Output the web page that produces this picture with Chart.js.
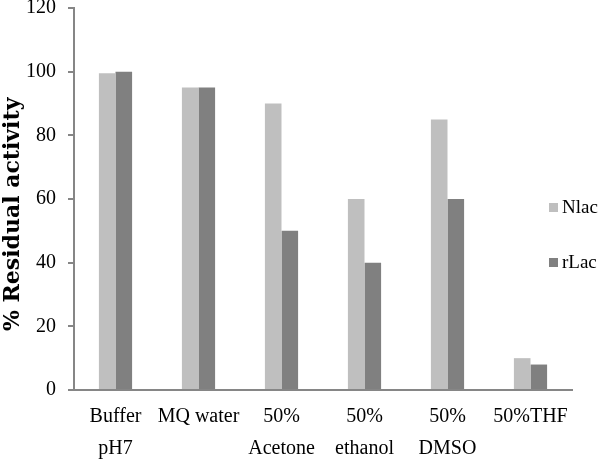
<!DOCTYPE html>
<html>
<head>
<meta charset="utf-8">
<script src="https://cdn.jsdelivr.net/npm/chart.js@4"></script>
<style>
  body { margin: 0; background: #fff; }
  #wrap { width: 600px; height: 464px; }
</style>
</head>
<body>
<div id="wrap"><canvas id="bar-activity"></canvas></div>
<script>
var categories = [['Buffer', 'pH7'], 'MQ water', ['50%', 'Acetone'], ['50%', 'ethanol'], ['50%', 'DMSO'], '50%THF'];
var nlac = [99.5, 95, 90, 60, 85, 10];
var rlac = [100, 95, 50, 40, 60, 8];
var yTicks = [0, 20, 40, 60, 80, 100, 120];

var serif = '"Liberation Serif", serif';

// legend sits over the right end of the plot, so draw it by hand
var sideLegend = {
	id: 'sideLegend',
	afterDraw: function(chart) {
		var ctx = chart.ctx;
		var rows = [207, 262];
		ctx.save();
		ctx.font = '19px ' + serif;
		ctx.textBaseline = 'middle';
		chart.data.datasets.forEach(function(ds, i) {
			ctx.fillStyle = ds.backgroundColor;
			ctx.fillRect(549, rows[i] - 4, 9, 9);
			ctx.fillStyle = '#000';
			ctx.fillText(ds.label, 562, rows[i] + 1);
		});
		ctx.restore();
	}
};

var chartdata = {
	labels: categories,
	datasets: [
		{
			label: 'Nlac',
			backgroundColor: '#bfbfbf',
			data: nlac
		},
		{
			label: 'rLac',
			backgroundColor: '#808080',
			data: rlac
		}
	]
};

var ctx = document.getElementById('bar-activity');

var barGraph = new Chart(ctx, {
	type: 'bar',
	data: chartdata,
	plugins: [sideLegend],
	options: {
		responsive: true,
		maintainAspectRatio: false,
		animation: false,
		layout: { padding: { top: 8, right: 28, left: 0, bottom: 0 } },
		datasets: {
			bar: { categoryPercentage: 0.4, barPercentage: 1.0 }
		},
		plugins: {
			legend: { display: false },
			tooltip: { enabled: false }
		},
		scales: {
			x: {
				afterFit: function(scale) { scale.height = 74; },
				grid: { display: true, drawOnChartArea: false, drawTicks: false },
				border: { display: true, color: '#868686', width: 2 },
				ticks: {
					color: '#000',
					padding: 11,
					maxRotation: 0,
					autoSkip: false,
					font: { family: serif, size: 20, lineHeight: 1.6 }
				}
			},
			y: {
				min: 0,
				max: 120,
				afterFit: function(scale) {
					scale.width = 74;
					scale.paddingTop = 0;
				},
				afterBuildTicks: function(scale) {
					scale.ticks = yTicks.map(function(v) { return { value: v }; });
				},
				grid: { drawOnChartArea: false, drawTicks: true, tickLength: 6, color: '#868686', lineWidth: 2 },
				border: { display: true, color: '#868686', width: 2 },
				title: {
					display: true,
					// trailing spaces nudge the title a bit lower, as in the original
					text: '% Residual activity\u00a0\u00a0\u00a0\u00a0',
					color: '#000',
					padding: 0,
					font: { family: '"DejaVu Serif", serif', size: 22, weight: 'bold' }
				},
				ticks: {
					color: '#000',
					padding: 12,
					font: { family: serif, size: 20 }
				}
			}
		}
	}
});
</script>
</body>
</html>
